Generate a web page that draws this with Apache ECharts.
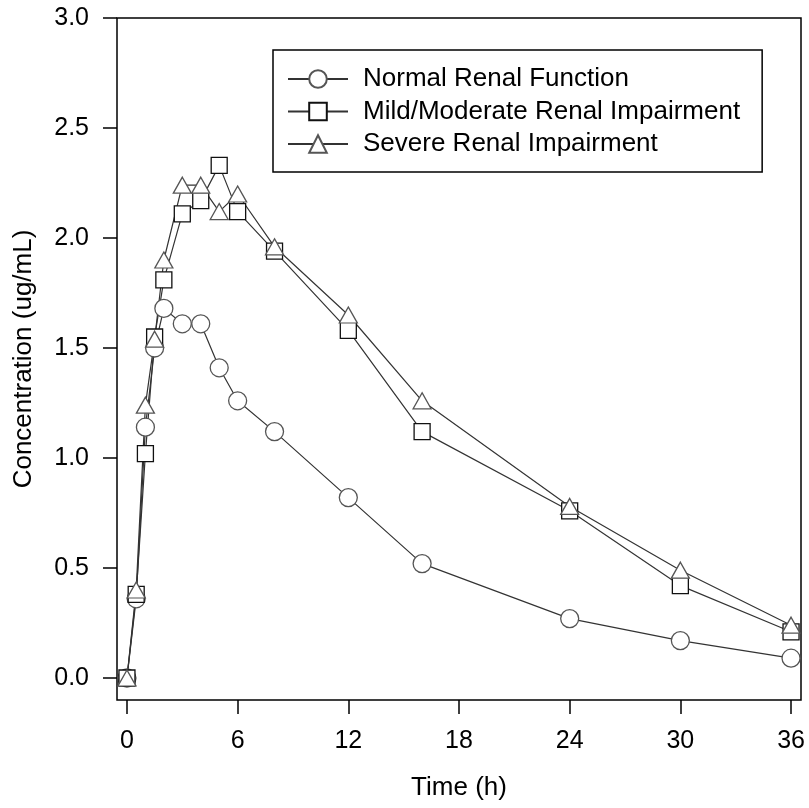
<!DOCTYPE html>
<html>
<head>
<meta charset="utf-8">
<script src="https://cdn.jsdelivr.net/npm/echarts@6/dist/echarts.min.js"></script>
<style>html,body{margin:0;padding:0;background:#fff}#c{width:809px;height:808px}</style>
</head>
<body>
<div id="c"></div>
<script>
const times = [0, 0.5, 1, 1.5, 2, 3, 4, 5, 6, 8, 12, 16, 24, 30, 36];
const normalRenal = [0, 0.36, 1.14, 1.50, 1.68, 1.61, 1.61, 1.41, 1.26, 1.12, 0.82, 0.52, 0.27, 0.17, 0.09];
const mildModerate = [0, 0.38, 1.02, 1.55, 1.81, 2.11, 2.17, 2.33, 2.12, 1.94, 1.58, 1.12, 0.76, 0.42, 0.21];
const severe = [0, 0.40, 1.24, 1.54, 1.90, 2.24, 2.24, 2.12, 2.20, 1.96, 1.65, 1.26, 0.78, 0.49, 0.24];
const xTicks = [0, 6, 12, 18, 24, 30, 36];
const yTicks = [0, 0.5, 1.0, 1.5, 2.0, 2.5, 3.0];
const seriesNames = ['Normal Renal Function', 'Mild/Moderate Renal Impairment', 'Severe Renal Impairment'];

const FONT = 'Liberation Sans, Arial, sans-serif';
const pairs = arr => times.map((t, i) => [t, arr[i]]);

const chart = echarts.init(document.getElementById('c'), null, {renderer: 'canvas'});
const lineCol = '#333';
function mk(name, data, symbol, size, border) {
  return {
    name, type: 'line', data: pairs(data), symbol, symbolSize: size,
    showSymbol: true, clip: false,
    lineStyle: {color: lineCol, width: 1.2},
    itemStyle: {color: '#fff', borderColor: border, borderWidth: 1.3},
    emphasis: {disabled: true}
  };
}
chart.setOption({
  animation: false,
  grid: {left: 117, right: 8, top: 18, bottom: 108, show: true, borderColor: '#000', borderWidth: 1.5, backgroundColor: 'transparent'},
  xAxis: {
    type: 'value', min: -0.54, max: 36.54,
    axisLine: {show: false, onZero: false},
    splitLine: {show: false},
    axisTick: {show: true, length: 14, inside: false, customValues: xTicks, lineStyle: {color: '#000', width: 1.5}},
    axisLabel: {customValues: xTicks, margin: 29, fontSize: 25, fontFamily: FONT, color: '#000'}
  },
  yAxis: {
    type: 'value', min: -0.1, max: 3.0,
    axisLine: {show: false, onZero: false},
    splitLine: {show: false},
    axisTick: {show: true, length: 14, inside: false, customValues: yTicks, lineStyle: {color: '#000', width: 1.5}},
    axisLabel: {customValues: yTicks, margin: 28, fontSize: 25, fontFamily: FONT, color: '#000',
      formatter: v => Number(v).toFixed(1)}
  },
  legend: {
    data: seriesNames, orient: 'vertical', left: 273, top: 50,
    borderColor: '#000', borderWidth: 1.5, backgroundColor: '#fff',
    padding: [16, 22, 15, 14], itemWidth: 60, itemHeight: 22, itemGap: 6.5,
    selectedMode: false,
    textStyle: {fontSize: 26, fontFamily: FONT, color: '#000', padding: [0, 0, 0, 10]}
  },
  graphic: [
    {type: 'text', x: 24, y: 359, rotation: Math.PI / 2,
     style: {text: 'Concentration (ug/mL)', font: '26px ' + FONT, fill: '#000', align: 'center', verticalAlign: 'middle'}},
    {type: 'text', x: 459, y: 788,
     style: {text: 'Time (h)', font: '26px ' + FONT, fill: '#000', align: 'center', verticalAlign: 'middle'}}
  ],
  series: [
    mk(seriesNames[0], normalRenal, 'circle', 18, '#555'),
    mk(seriesNames[1], mildModerate, 'rect', 16, '#111'),
    mk(seriesNames[2], severe, 'triangle', [18, 16], '#555')
  ]
});
</script>
</body>
</html>
